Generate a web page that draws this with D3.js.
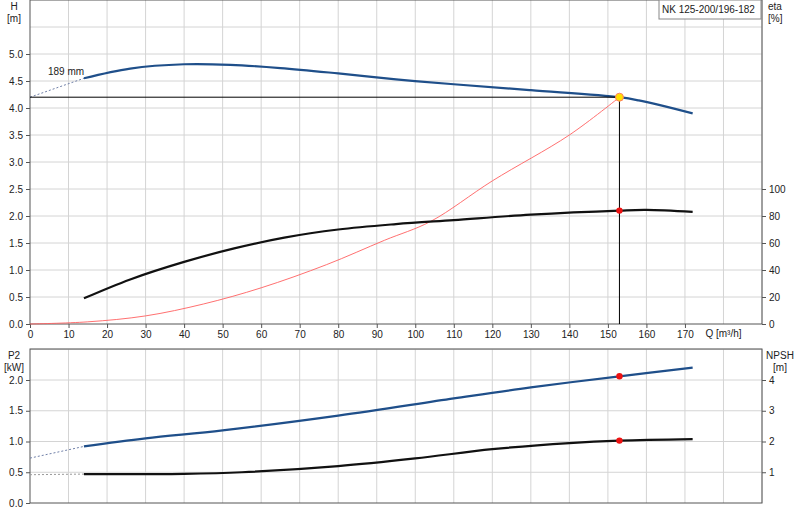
<!DOCTYPE html><html><head><meta charset="utf-8"><script src="https://cdn.jsdelivr.net/npm/d3@7"></script>
<style>body{margin:0;background:#fff}text{font-family:"Liberation Sans",Arial,sans-serif;font-size:10px;fill:#222}</style></head><body><svg id="c" width="800" height="520"></svg><script>
const qTicks=[0,10,20,30,40,50,60,70,80,90,100,110,120,130,140,150,160,170];
const hTicks=[0,0.5,1,1.5,2,2.5,3,3.5,4,4.5,5];
const etaTicks=[0,20,40,60,80,100];
const p2Ticks=[0,0.5,1,1.5,2];
const npshTicks=[1,2,3,4];
const hQ=[14,26,40,52,65,80,95,110,130,153,158,172];
const hV=[4.55,4.73,4.81,4.80,4.74,4.64,4.53,4.44,4.33,4.2,4.14,3.9];
const hExtQ=[0,14], hExtV=[4.2,4.55];
const etaQ=[14,26,40,53,66,80,95,110,130,153,160,172];
const etaV=[19,33,46,56,64,70,74,77,81,84,84.5,83];
const sysQ=[0,15,30,45,60,77,92,104,120,140,153];
const sysV=[0,0.04,0.15,0.37,0.67,1.1,1.55,1.9,2.65,3.5,4.2];
const p2Q=[14,30,50,80,110,130,153,172];
const p2V=[0.92,1.05,1.18,1.42,1.7,1.88,2.06,2.2];
const p2ExtQ=[0,14], p2ExtV=[0.73,0.92];
const npQ=[14,40,55,80,100,120,140,153,172];
const npV=[0.94,0.95,1.0,1.2,1.45,1.75,1.95,2.03,2.08];
const npExtQ=[0,14], npExtV=[0.92,0.94];
const opQ=153, opH=4.2, opEta=84, opP2=2.06, opNp=2.03;

const svg=d3.select("#c");
const x=d3.scaleLinear().domain([0,190]).range([30,762]);
const yH=d3.scaleLinear().domain([0,6]).range([324,0]);
const yE=d3.scaleLinear().domain([0,100]).range([324,189]);
const yP=d3.scaleLinear().domain([0,2.5]).range([503,349.25]);
const yN=d3.scaleLinear().domain([0,4]).range([503,380]);
const g=svg.append("g");
for(let q=10;q<=190;q+=10) g.append("line").attr("x1",x(q)).attr("x2",x(q)).attr("y1",0).attr("y2",324).attr("stroke","#d4d4d4");
for(let h=0.5;h<=5.5;h+=0.5) g.append("line").attr("x1",30).attr("x2",762).attr("y1",yH(h)).attr("y2",yH(h)).attr("stroke","#d4d4d4");
for(let q=10;q<=190;q+=10) g.append("line").attr("x1",x(q)).attr("x2",x(q)).attr("y1",349).attr("y2",503).attr("stroke","#d4d4d4");
for(let p=0.5;p<=2.5;p+=0.5) g.append("line").attr("x1",30).attr("x2",762).attr("y1",yP(p)).attr("y2",yP(p)).attr("stroke","#d4d4d4");
svg.append("rect").attr("x",30).attr("y",0).attr("width",732).attr("height",324).attr("fill","none").attr("stroke","#555");
svg.append("rect").attr("x",30).attr("y",349).attr("width",732).attr("height",154).attr("fill","none").attr("stroke","#555");
const ax=(gen,tx,ty)=>svg.append("g").attr("transform",`translate(${tx},${ty})`).call(gen).call(a=>{a.select(".domain").remove();a.selectAll("line").attr("stroke","#555");});
ax(d3.axisLeft(yH).tickValues(hTicks).tickFormat(d3.format(".1f")).tickSize(4),30,0);
ax(d3.axisRight(yE).tickValues(etaTicks).tickSize(4),762,0);
ax(d3.axisBottom(x).tickValues(qTicks).tickSize(4),0,324);
ax(d3.axisLeft(yP).tickValues(p2Ticks).tickFormat(d3.format(".1f")).tickSize(4),30,0);
ax(d3.axisRight(yN).tickValues(npshTicks).tickFormat(d3.format("d")).tickSize(4),762,0);
svg.selectAll(".tick text").attr("fill","#222").style("font-size","10px");
const t=(s,px,py,a)=>svg.append("text").attr("x",px).attr("y",py).attr("text-anchor",a||"start").text(s);
t("H",14,10,"middle");t("[m]",14,22,"middle");
t("eta",768,10);t("[%]",768,22);
t("Q [m³/h]",x(180),337,"middle");
t("P2",14,359,"middle");t("[kW]",14,371,"middle");
t("NPSH",780,359,"middle");t("[m]",780,371,"middle");
t("189 mm",48,75);
svg.append("rect").attr("x",659).attr("y",0).attr("width",102).attr("height",19).attr("fill","#fff").attr("stroke","#888");
t("NK 125-200/196-182",662,13);
const line=(Q,V,ys,col,w,dash)=>svg.append("path").attr("d",d3.line().curve(d3.curveCatmullRom).x((d,i)=>x(Q[i])).y((d,i)=>ys(V[i]))(Q)).attr("fill","none").attr("stroke",col).attr("stroke-width",w).attr("stroke-dasharray",dash||null);
const blue="#1f4f8a";
line(hExtQ,hExtV,yH,"#7080a8",1,"2,2");
line(hQ,hV,yH,blue,2.2);
line(sysQ,sysV,yH,"#ff6060",0.9);
line(etaQ,etaV,yE,"#111",2.2);
line(p2ExtQ,p2ExtV,yP,"#7080a8",1,"2,2");
line(p2Q,p2V,yP,blue,2.2);
line(npExtQ,npExtV,yN,"#999",1,"2,2");
line(npQ,npV,yN,"#111",2.2);
svg.append("line").attr("x1",x(0)).attr("x2",x(opQ)).attr("y1",yH(opH)).attr("y2",yH(opH)).attr("stroke","#000");
svg.append("line").attr("x1",x(opQ)).attr("x2",x(opQ)).attr("y1",yH(opH)).attr("y2",yH(0)).attr("stroke","#000");
svg.append("circle").attr("cx",x(opQ)).attr("cy",yH(opH)).attr("r",4).attr("fill","#ffe000").attr("stroke","#ff8060");
[[yE,opEta],[yP,opP2],[yN,opNp]].forEach(([s,v])=>svg.append("circle").attr("cx",x(opQ)).attr("cy",s(v)).attr("r",3.2).attr("fill","#ee1111"));
</script></body></html>
